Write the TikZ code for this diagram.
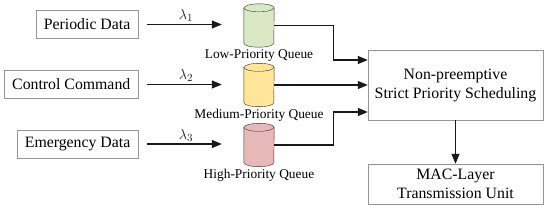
\documentclass[tikz,border=0pt]{standalone}
\usepackage{fontspec}
\setmainfont{Liberation Serif}
\usetikzlibrary{calc,arrows.meta,positioning}
\definecolor{qgreen}{RGB}{218,232,198}
\definecolor{qyellow}{RGB}{255,229,153}
\definecolor{qpink}{RGB}{230,184,183}
\definecolor{bgray}{RGB}{150,150,150}
% cylinder drawn over a named (invisible) queue node
\newcommand\drawqueue[2]{%
  \draw[black!80, fill=#2] ($(#1.north west)+(0,-4)$) -- ($(#1.south west)+(0,4)$)
    arc[start angle=180, end angle=360, x radius=15, y radius=4]
    -- ($(#1.north east)+(0,-4)$)
    arc[start angle=0, end angle=180, x radius=15, y radius=4] -- cycle;
  \draw[black!80] ($(#1.north west)+(0,-4)$)
    arc[start angle=180, end angle=360, x radius=15, y radius=4];}
\begin{document}
\begin{tikzpicture}[x=1pt, y=1pt,
  src/.style={rectangle, draw=bgray, anchor=east, inner xsep=8pt, minimum height=28pt, font=\fontsize{15.8}{18}\selectfont},
  blk/.style={rectangle, draw=bgray, minimum width=175pt, align=center, font=\fontsize{15.8}{19}\selectfont},
  que/.style={rectangle, minimum width=30pt, minimum height=43pt, inner sep=0pt},
  ql/.style={font=\fontsize{13.4}{15}\selectfont, inner sep=1pt},
  lam/.style={above, font=\fontsize{15}{17}\selectfont, inner sep=2pt},
  flow/.style={-{Triangle[length=10pt, width=8pt]}, line width=1.2pt, black!90}]
\useasboundingbox (0,0) rectangle (550,210);
% sources
\node[src] (pd) at (138.5,185.5) {Periodic Data};
\node[src] (cc) at (138.5,125.5) {Control Command};
\node[src] (ed) at (138.5,66) {Emergency Data};
% queues
\node[que] (q1) at (259,184.5) {};
\node[que] (q2) at (259,125) {};
\node[que] (q3) at (259,65) {};
\drawqueue{q1}{qgreen}
\drawqueue{q2}{qyellow}
\drawqueue{q3}{qpink}
\node[ql, below=1pt of q1] (q1l) {Low-Priority Queue};
\node[ql, below=1pt of q2] (q2l) {Medium-Priority Queue};
\node[ql, below=1pt of q3] (q3l) {High-Priority Queue};
% scheduler and MAC
\node[blk, minimum height=70pt] (sch) at (455.5,125) {Non-preemptive\\Strict Priority Scheduling};
\node[blk, minimum height=40pt] (mac) at (455.5,26) {MAC-Layer\\Transmission Unit};
% arrivals
\draw[flow, shorten <=8pt, shorten >=22pt] (pd.east) -- (pd.east -| q1.west) node[lam, pos=0.45] {$\lambda_1$};
\draw[flow, shorten <=8pt, shorten >=22pt] (cc.east) -- (cc.east -| q2.west) node[lam, pos=0.45] {$\lambda_2$};
\draw[flow, shorten <=8pt, shorten >=22pt] (ed.east) -- (ed.east -| q3.west) node[lam, pos=0.45] {$\lambda_3$};
% queues to scheduler
\draw[flow] (q1.east) -- ++(59,0) |- ([yshift=25pt]sch.west);
\draw[flow] (q2.east) -- (q2.east -| sch.west);
\draw[flow] (q3.east) -- ++(59,0) |- ([yshift=-27pt]sch.west);
\draw[flow] (sch) -- (mac);
\end{tikzpicture}
\end{document}
